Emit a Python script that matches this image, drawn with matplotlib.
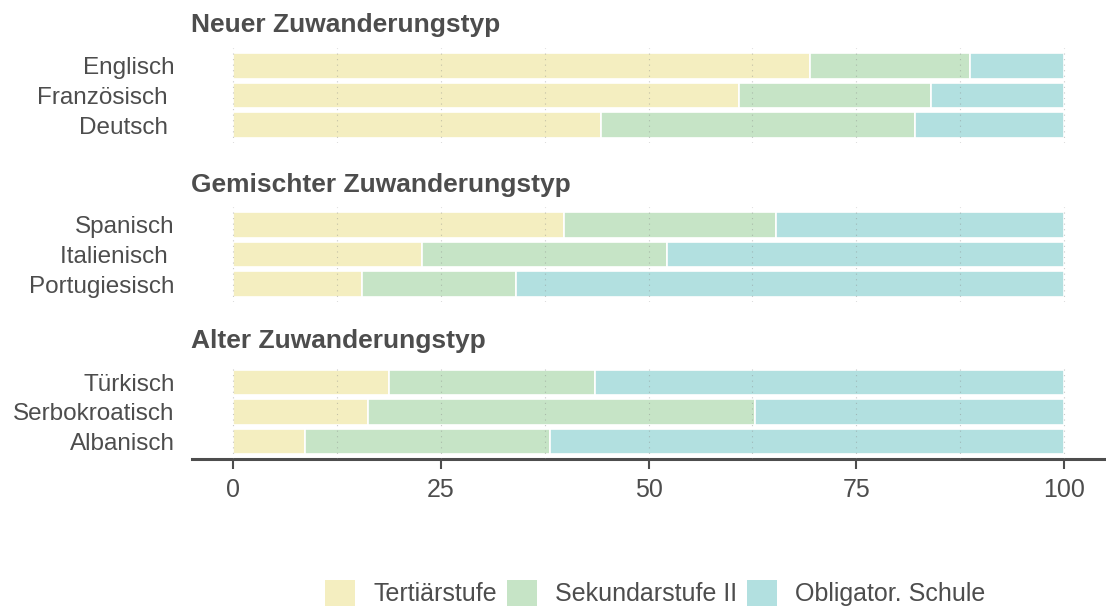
import numpy as np
import matplotlib.pyplot as plt
from matplotlib.patches import Patch

plt.rcParams['font.family'] = ['Liberation Sans', 'DejaVu Sans']

groups = ["Neuer Zuwanderungstyp", "Gemischter Zuwanderungstyp", "Alter Zuwanderungstyp"]
languages = [
    ["Englisch", "Französisch ", "Deutsch "],
    ["Spanisch", "Italienisch ", "Portugiesisch"],
    ["Türkisch", "Serbokroatisch", "Albanisch"],
]
tertiaer = [[69.4, 60.9, 44.3], [39.8, 22.7, 15.5], [18.8, 16.2, 8.7]]
sekundar = [[19.3, 23.1, 37.8], [25.5, 29.5, 18.6], [24.8, 46.6, 29.4]]
obligat = [[11.3, 16.0, 17.9], [34.7, 47.8, 65.9], [56.4, 37.2, 61.9]]

series = ["Tertiärstufe", "Sekundarstufe II", "Obligator. Schule"]
colors = ["#F4EEC0", "#C6E4C6", "#B2E0E0"]
txt = "#4D4D4D"

W, H = 1106, 610
fig = plt.figure(figsize=(W / 100, H / 100), dpi=100)

# panel positions in pixels (top, bottom)
panels = [(48, 143), (207, 302), (365, 459)]
titles_y = [25, 185, 341]
x0, x1 = 191.5, 1105.5

for i, (top, bot) in enumerate(panels):
    ax = fig.add_axes([x0 / W, 1 - bot / H, (x1 - x0) / W, (bot - top) / H])
    y = np.arange(3)[::-1]
    left = np.zeros(3)
    for vals, c in zip([tertiaer[i], sekundar[i], obligat[i]], colors):
        ax.barh(y, vals, left=left, height=0.86, color=c, edgecolor="white",
                linewidth=1.2, zorder=2)
        left += np.array(vals)
    ax.set_xlim(-5, 105)
    ax.set_ylim(-0.6, 2.6)
    ax.set_yticks(y)
    ax.set_yticklabels(languages[i], fontsize=17.5, color=txt)
    ax.tick_params(axis="y", length=0, pad=12)
    for gx in np.arange(0, 100.1, 12.5):
        ax.axvline(gx, color="#888888", alpha=0.45, lw=0.8,
                   linestyle=(0, (1, 4)), zorder=3)
    for s in ax.spines.values():
        s.set_visible(False)
    ax.set_xticks([0, 25, 50, 75, 100])
    if i == 2:
        ax.spines["bottom"].set_visible(True)
        ax.spines["bottom"].set_color(txt)
        ax.spines["bottom"].set_linewidth(2.2)
        ax.tick_params(axis="x", length=7, width=1.5, color=txt,
                       labelsize=18, labelcolor=txt, pad=7)
    else:
        ax.tick_params(axis="x", length=0, labelbottom=False)
    fig.text(191 / W, 1 - titles_y[i] / H, groups[i], fontsize=19,
             fontweight="bold", color=txt, ha="left", va="center")

handles = [Patch(facecolor=c, edgecolor="none") for c in colors]
leg = fig.legend(handles, series, loc="center", bbox_to_anchor=(655 / W, 1 - 593 / H),
                 ncol=3, frameon=False, fontsize=18, handlelength=1.2,
                 handleheight=1.2, handletextpad=0.72, columnspacing=0.4)
for t in leg.get_texts():
    t.set_color(txt)

fig.savefig("out.png", dpi=100)
